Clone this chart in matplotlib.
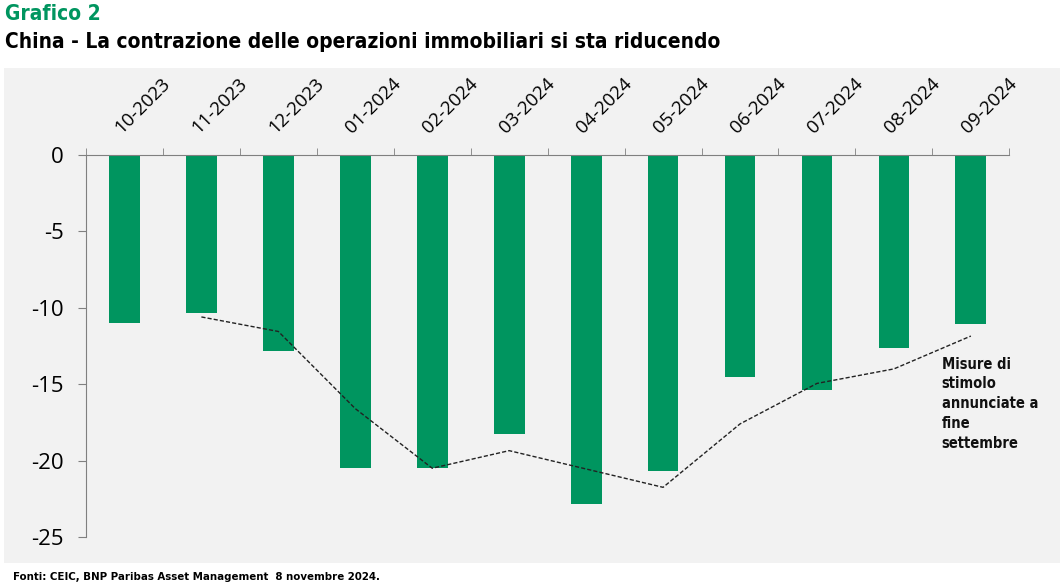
import matplotlib.pyplot as plt
from matplotlib.patches import Rectangle
import numpy as np

months = ["10-2023", "11-2023", "12-2023", "01-2024", "02-2024", "03-2024",
          "04-2024", "05-2024", "06-2024", "07-2024", "08-2024", "09-2024"]
values = [-11.0, -10.35, -12.8, -20.5, -20.5, -18.25,
          -22.85, -20.7, -14.5, -15.4, -12.65, -11.05]
# trend line (starts at 11-2023)
trend = [-10.6, -11.55, -16.6, -20.5, -19.35, -20.55, -21.75, -17.6, -14.95, -14.0, -11.85]

green = "#00955f"
panel = "#f2f2f2"
cond = dict(family="DejaVu Sans", fontstretch="condensed", fontweight="bold")

fig = plt.figure(figsize=(10.6, 5.87), dpi=100)
fig.patches.append(Rectangle((0.004, 0.041), 0.996, 0.843, transform=fig.transFigure,
                             facecolor=panel, edgecolor="none", zorder=-5))

ax = fig.add_axes([0.0811, 0.0852, 0.8711, 0.6508])
ax.set_facecolor(panel)
x = np.arange(len(months))
ax.bar(x, values, width=0.4, color=green, zorder=2)
ax.plot(x[1:], trend, color="#222222", lw=1.0, ls=(0, (3, 1.5)), zorder=3)

ax.set_xlim(-0.5, len(months) - 0.5)
ax.set_ylim(-25, 0)
ax.set_yticks([0, -5, -10, -15, -20, -25])
ax.set_yticklabels(["0", "-5", "-10", "-15", "-20", "-25"], fontsize=16, family="Open Sans")
ax.tick_params(axis="y", length=6, color="#808080", pad=10)

ax.xaxis.tick_top()
ax.set_xticks(x)
ax.set_xticklabels(months, rotation=45, ha="left", rotation_mode="anchor",
                   fontsize=13.5, family="Open Sans")
ax.tick_params(axis="x", which="major", length=0, pad=13)
ax.set_xticks(np.arange(-0.5, len(months)), minor=True)
ax.tick_params(axis="x", which="minor", length=5, color="#808080", top=True, bottom=False)

for s in ["bottom", "right"]:
    ax.spines[s].set_visible(False)
ax.spines["left"].set_color("#808080")
ax.spines["top"].set_color("#808080")

ax.text(10.62, -13.2, "Misure di\nstimolo\nannunciate a\nfine\nsettembre",
        fontsize=10.5, va="top", ha="left", linespacing=1.4, color="#111111", **cond)

fig.text(0.005, 0.976, "Grafico 2", fontsize=15, color=green, va="center", **cond)
fig.text(0.005, 0.928, "China - La contrazione delle operazioni immobiliari si sta riducendo",
         fontsize=15, color="black", va="center", **cond)
fig.text(0.012, 0.017, "Fonti: CEIC, BNP Paribas Asset Management  8 novembre 2024.",
         fontsize=8.2, va="center", **cond)

fig.savefig("out.png", dpi=100)
